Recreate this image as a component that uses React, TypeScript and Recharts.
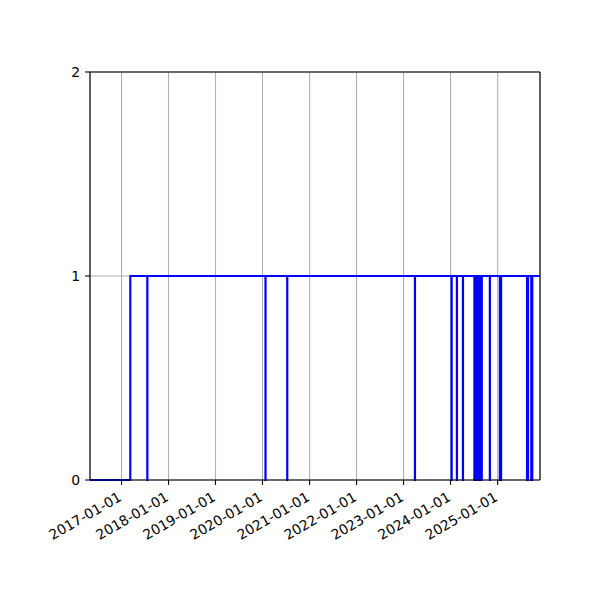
import { LineChart, Line, XAxis, YAxis, CartesianGrid, ReferenceLine } from 'recharts'

// state flips between 0 (down) and 1 (up)
const startDate = '2016-05-01'
const endDate = '2025-11-26'
const firstUp = '2017-03-10'
const dropDates = [
  '2017-07-20', '2020-01-24', '2020-07-11', '2023-03-30',
  '2024-01-09', '2024-02-19', '2024-04-06',
  '2024-07-04', '2024-07-11', '2024-07-18', '2024-07-25', '2024-08-01',
  '2024-08-08', '2024-08-15', '2024-08-22', '2024-08-30',
  '2024-11-01', '2025-01-18', '2025-01-27',
  '2025-08-17', '2025-08-24', '2025-09-19', '2025-09-26',
]
const recoverDates = [
  '2017-07-21', '2020-01-25', '2020-07-12', '2023-03-31',
  '2024-01-10', '2024-02-20', '2024-04-07',
  '2024-07-05', '2024-07-12', '2024-07-19', '2024-07-26', '2024-08-02',
  '2024-08-09', '2024-08-16', '2024-08-23', '2024-08-31',
  '2024-11-02', '2025-01-19', '2025-01-28',
  '2025-08-18', '2025-08-25', '2025-09-20', '2025-09-27',
]
const tickDates = [
  '2017-01-01', '2018-01-01', '2019-01-01', '2020-01-01', '2021-01-01',
  '2022-01-01', '2023-01-01', '2024-01-01', '2025-01-01',
]
const yTicks = [0, 1, 2]

const ts = (d: string) => Date.parse(d)

const data = [
  { t: ts(startDate), v: 0 },
  { t: ts(firstUp), v: 1 },
  ...dropDates.flatMap((d, i) => [
    { t: ts(d), v: 0 },
    { t: ts(recoverDates[i]), v: 1 },
  ]),
  { t: ts(endDate), v: 1 },
]

const font = 'DejaVu Sans, sans-serif'

function DateTick(props: any) {
  const { x, y, payload } = props
  const label = new Date(payload.value).toISOString().slice(0, 10)
  return (
    <g transform={`translate(${x + 1},${y + 15})`}>
      <text textAnchor="end" transform="rotate(-30)" fill="#000" fontSize={13.9} fontFamily={font}>
        {label}
      </text>
    </g>
  )
}

export default function App() {
  return (
    <div style={{ position: 'absolute', left: 0, top: 0, background: '#fff' }}>
      <LineChart width={600} height={600} data={data} margin={{ top: 72, right: 60, bottom: 0, left: 0 }}>
        <CartesianGrid stroke="#b0b0b0" strokeWidth={1.1} />
        <XAxis
          dataKey="t"
          type="number"
          domain={[ts(startDate), ts(endDate)]}
          ticks={tickDates.map(ts)}
          tick={<DateTick />}
          tickSize={4.9}
          tickMargin={0}
          height={120}
          stroke="#000"
          strokeWidth={1.1}
          interval={0}
        />
        <YAxis
          type="number"
          domain={[0, 2]}
          ticks={yTicks}
          width={90}
          tickSize={4.9}
          tickMargin={4.9}
          stroke="#000"
          strokeWidth={1.1}
          tick={{ fill: '#000', fontSize: 13.9, fontFamily: font }}
        />
        <ReferenceLine y={2} stroke="#000" strokeWidth={1.1} />
        <ReferenceLine x={ts(endDate)} stroke="#000" strokeWidth={1.1} />
        <Line
          type="stepAfter"
          dataKey="v"
          stroke="#0000ff"
          strokeWidth={2.1}
          dot={false}
          isAnimationActive={false}
        />
      </LineChart>
    </div>
  )
}
